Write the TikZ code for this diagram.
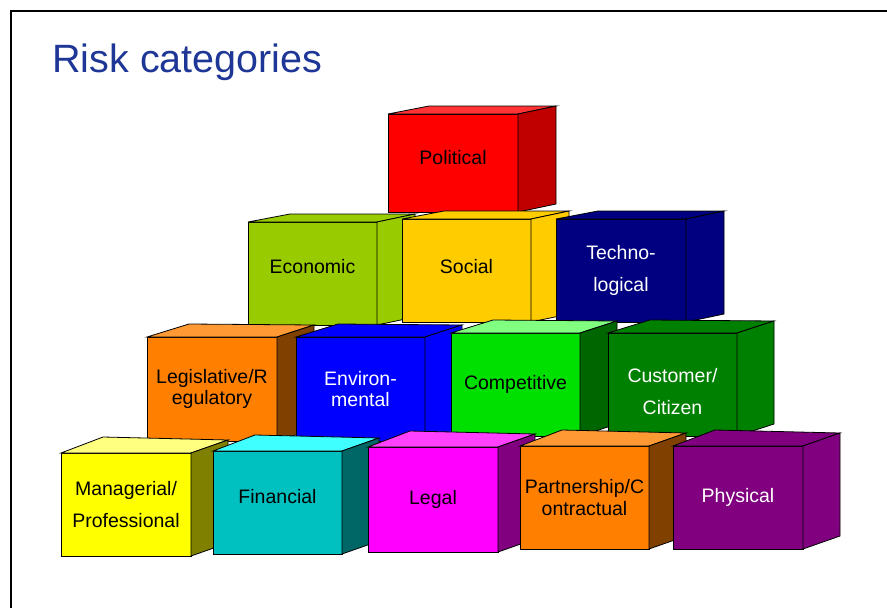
\documentclass[tikz,border=0pt]{standalone}
\usepackage{fontspec}
\setmainfont{Liberation Sans}
\usetikzlibrary{calc}

\definecolor{titleblue}{RGB}{30,55,150}
% front / top / side colours
\definecolor{polF}{HTML}{FF0000}\definecolor{polT}{HTML}{FF3333}\definecolor{polS}{HTML}{C00000}
\definecolor{ecoF}{HTML}{99CC00}\definecolor{ecoT}{HTML}{99CC00}\definecolor{ecoS}{HTML}{99CC00}
\definecolor{socF}{HTML}{FFCC00}\definecolor{socT}{HTML}{FFCC00}\definecolor{socS}{HTML}{FFCC00}
\definecolor{tecF}{HTML}{000080}\definecolor{tecT}{HTML}{000080}\definecolor{tecS}{HTML}{000080}
\definecolor{legF}{HTML}{FF8000}\definecolor{legT}{HTML}{FF9933}\definecolor{legS}{HTML}{804000}
\definecolor{envF}{HTML}{0000FF}\definecolor{envT}{HTML}{0000FF}\definecolor{envS}{HTML}{0000FF}
\definecolor{comF}{HTML}{00E000}\definecolor{comT}{HTML}{80FF80}\definecolor{comS}{HTML}{006600}
\definecolor{cusF}{HTML}{008000}\definecolor{cusT}{HTML}{008000}\definecolor{cusS}{HTML}{008000}
\definecolor{manF}{HTML}{FFFF00}\definecolor{manT}{HTML}{FFFF80}\definecolor{manS}{HTML}{808000}
\definecolor{finF}{HTML}{00C0C0}\definecolor{finT}{HTML}{40FFFF}\definecolor{finS}{HTML}{006666}
\definecolor{lawF}{HTML}{FF00FF}\definecolor{lawT}{HTML}{FF40FF}\definecolor{lawS}{HTML}{800080}
\definecolor{parF}{HTML}{FF8000}\definecolor{parT}{HTML}{FF9933}\definecolor{parS}{HTML}{804000}
\definecolor{phyF}{HTML}{800080}\definecolor{phyT}{HTML}{800080}\definecolor{phyS}{HTML}{800080}

% #1 name, #2 x, #3 y, #4 width, #5 height, #6 colour, #7 label style, #8 label
\newcommand{\riskcube}[8]{%
  \node[front, fill=#6F, minimum width=#4pt, minimum height=#5pt, #7] (#1) at (#2,#3) {#8};
  \filldraw[fill=#6T] (#1.north west) -- ++(\dlx,\dly) -- ($(#1.north east)+(\drx,\dry)$) -- (#1.north east) -- cycle;
  \filldraw[fill=#6S] (#1.north east) -- ++(\drx,\dry) -- ++(0,#5) -- (#1.south east) -- cycle;
}

\begin{document}
\begin{tikzpicture}[x=1pt,y=-1pt,line width=0.8pt,
    front/.style={draw, anchor=north west, outer sep=0pt, inner sep=1pt, align=center,
      font=\fontsize{19.5}{21.5}\selectfont},
    loose/.style={font=\fontsize{19.5}{32}\selectfont},
    light/.style={text=white}]
  \useasboundingbox (0,0) rectangle (887,608);
  \draw[line width=2pt] (11,608) -- (11,11) -- (887,11);
  \node[anchor=base west, inner sep=0pt, text=titleblue,
    font=\fontsize{39.5}{42}\selectfont] (title) at (52,72) {Risk categories};

  % top row
  \def\dlx{41}\def\dly{-8}\def\drx{38}\def\dry{-8}
  \riskcube{political}{388}{114}{130}{98}{pol}{text depth=12pt}{Political}
  % second row
  \def\dlx{42}\def\dly{-8}
  \riskcube{economic}{248}{222}{129}{103}{eco}{text depth=15pt}{Economic}
  \riskcube{social}{402}{219}{129}{103}{soc}{text depth=9pt}{Social}
  \riskcube{techno}{556}{219}{130}{103}{tec}{loose,light}{Techno-\\logical}
  % third row
  \def\dly{-13}\def\drx{37}\def\dry{-12}
  \riskcube{legislative}{147}{337}{130}{104}{leg}{}{Legislative/R\\egulatory}
  \riskcube{environ}{296}{337}{129}{104}{env}{light}{Environ-\\mental}
  \riskcube{competitive}{451}{333}{129}{103}{com}{}{Competitive}
  \riskcube{customer}{608}{333}{129}{103}{cus}{loose,light,text height=60pt}{Customer/\\Citizen}
  % bottom row
  \def\dly{-16}\def\dry{-13}
  \riskcube{managerial}{61}{453}{130}{103}{man}{loose}{Managerial/\\Professional}
  \riskcube{financial}{213}{451}{129}{103}{fin}{text depth=13pt}{Financial}
  \riskcube{legal}{368}{447}{130}{105}{law}{}{Legal}
  \riskcube{partnership}{520}{446}{129}{103}{par}{}{Partnership/C\\ontractual}
  \riskcube{physical}{673}{446}{130}{103}{phy}{light}{Physical}
\end{tikzpicture}
\end{document}
